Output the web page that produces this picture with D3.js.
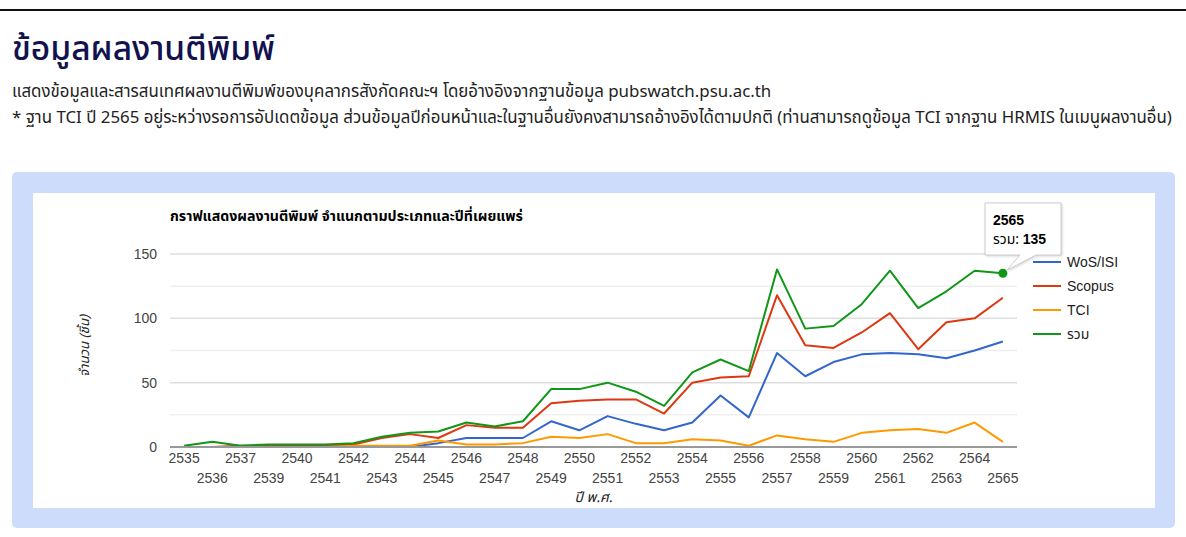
<!DOCTYPE html>
<html>
<head>
<meta charset="utf-8">
<script src="https://cdn.jsdelivr.net/npm/d3@7"></script>
<style>
  body { margin: 0; background: #fff; }
  svg { display: block; }
</style>
</head>
<body>
<div id="page"></div>
<script>
// Data: years (B.E.) and publication counts per database
const years = ['2535','2536','2537','2539','2540','2541','2542','2543','2544','2545',
  '2546','2547','2548','2549','2550','2551','2552','2553','2554','2555',
  '2556','2557','2558','2559','2560','2561','2562','2563','2564','2565'];
const wos    = [0,0,0,0,0,0,0,0,0,3, 7,7,7,20,13,24,18,13,19,40, 23,73,55,66,72,73,72,69,75,82];
const scopus = [0,0,1,1,1,1,2,7,10,7, 17,15,15,34,36,37,37,26,50,54, 55,118,79,77,89,104,76,97,100,116];
const tci    = [0,0,0,0,0,0,1,1,1,5, 2,2,3,8,7,10,3,3,6,5, 1,9,6,4,11,13,14,11,19,4];
const total  = [1,4,1,2,2,2,3,8,11,12, 19,16,20,45,45,50,43,32,58,68, 59,138,92,94,111,137,108,121,137,135];
const seriesNames = ['WoS/ISI','Scopus','TCI','รวม'];
const yTicks = [0,50,100,150];
const yMinor = [25,75,125];

const colors = ['#3366cc','#dc3912','#ff9900','#109618'];
const thai = '"Noto Sans Thai","Noto Sans","Open Sans",sans-serif';
const arial = '"Liberation Sans",Arial,sans-serif';

let W = 1186, H = 537;
let svg = d3.select('#page').append('svg')
  .attr('width', W).attr('height', H);

// fit a text element's font-size to a target width
function fit(sel, target) {
  let w = sel.node().getComputedTextLength();
  let fs = parseFloat(sel.attr('font-size'));
  if (w > 0) sel.attr('font-size', (fs * target / w).toFixed(2));
}

// top rule
svg.append('rect').attr('x',0).attr('y',9).attr('width',W).attr('height',2).attr('fill','#111');

// headings
let h1 = svg.append('text').attr('x',12).attr('y',60)
  .attr('font-family',thai).attr('font-size',30).attr('font-weight',500)
  .attr('fill','#12124f').text('ข้อมูลผลงานตีพิมพ์');
fit(h1, 263);

let s1 = svg.append('text').attr('x',12).attr('y',97)
  .attr('font-family',thai).attr('font-size',14).attr('fill','#222')
  .text('แสดงข้อมูลและสารสนเทศผลงานตีพิมพ์ของบุคลากรสังกัดคณะฯ โดยอ้างอิงจากฐานข้อมูล pubswatch.psu.ac.th');
fit(s1, 760);
let s2 = svg.append('text').attr('x',12).attr('y',123)
  .attr('font-family',thai).attr('font-size',14).attr('fill','#222')
  .text('* ฐาน TCI ปี 2565 อยู่ระหว่างรอการอัปเดตข้อมูล ส่วนข้อมูลปีก่อนหน้าและในฐานอื่นยังคงสามารถอ้างอิงได้ตามปกติ (ท่านสามารถดูข้อมูล TCI จากฐาน HRMIS ในเมนูผลงานอื่น)');
fit(s2, 1160);

// panel
svg.append('rect').attr('x',12).attr('y',172).attr('width',1163).attr('height',356)
  .attr('rx',5).attr('fill','#cddcfb');
svg.append('rect').attr('x',33).attr('y',193).attr('width',1122).attr('height',315)
  .attr('fill','#fff');

// plot area
let margin = {left: 170, right: 1017, top: 254, bottom: 447};
let x = d3.scalePoint().domain(years).range([margin.left, margin.right]).padding(0.5);
let y = d3.scaleLinear().domain([0,150]).range([margin.bottom, margin.top]);

let g = svg.append('g');

// gridlines
g.selectAll('.minor').data(yMinor).enter().append('line')
  .attr('x1',margin.left).attr('x2',margin.right)
  .attr('y1',d => y(d)).attr('y2',d => y(d))
  .attr('stroke','#efefef').attr('stroke-width',1.5);
g.selectAll('.major').data(yTicks.slice(1)).enter().append('line')
  .attr('x1',margin.left).attr('x2',margin.right)
  .attr('y1',d => y(d)).attr('y2',d => y(d))
  .attr('stroke','#dedede').attr('stroke-width',1.5);

// y tick labels
g.selectAll('.ylab').data(yTicks).enter().append('text')
  .attr('x', margin.left - 13).attr('y', d => y(d) + 5)
  .attr('text-anchor','end').attr('font-family',arial).attr('font-size',14)
  .attr('fill','#444').text(d => d);

// x tick labels, alternate rows
g.selectAll('.xlab').data(years).enter().append('text')
  .attr('x', d => x(d))
  .attr('y', (d,i) => i % 2 == 0 ? 463 : 483)
  .attr('text-anchor','middle').attr('font-family',arial).attr('font-size',14)
  .attr('fill','#444').text(d => d);

// lines
let allSeries = [wos, scopus, tci, total];
let line = d3.line().x((d,i) => x(years[i])).y(d => y(d));
allSeries.forEach(function(s, k) {
  g.append('path').datum(s)
    .attr('d', line)
    .attr('fill','none').attr('stroke',colors[k]).attr('stroke-width',2)
    .attr('stroke-linejoin','round');
});

// baseline
g.append('line').attr('x1',margin.left).attr('x2',margin.right)
  .attr('y1',y(0)).attr('y2',y(0)).attr('stroke','#999').attr('stroke-width',2);

// axis titles
let xt = svg.append('text').attr('x',(margin.left + margin.right)/2).attr('y',502)
  .attr('text-anchor','middle').attr('font-family',thai).attr('font-size',13)
  .attr('font-style','italic').attr('fill','#222').text('ปี พ.ศ.');
fit(xt, 38);
let yt = svg.append('text')
  .attr('transform','translate(89,' + 346 + ') rotate(-90)')
  .attr('text-anchor','middle').attr('font-family',thai).attr('font-size',13)
  .attr('font-style','italic').attr('fill','#222').text('จำนวน (ชิ้น)');
fit(yt, 62);

// chart title
let ct = svg.append('text').attr('x',170).attr('y',221)
  .attr('font-family',thai).attr('font-size',13).attr('font-weight','bold')
  .attr('fill','#000').text('กราฟแสดงผลงานตีพิมพ์ จำแนกตามประเภทและปีที่เผยแพร่');
fit(ct, 353);

// legend
let legend = svg.append('g');
seriesNames.forEach(function(name, k) {
  let ly = 262 + k * 24;
  legend.append('line').attr('x1',1033).attr('x2',1061).attr('y1',ly).attr('y2',ly)
    .attr('stroke',colors[k]).attr('stroke-width',2);
  legend.append('text').attr('x',1067).attr('y',ly + 5)
    .attr('font-family', k == 3 ? thai : arial).attr('font-size',14)
    .attr('fill','#222').text(name);
});

// tooltip on last total point
let last = years.length - 1;
let px = x(years[last]), py = y(total[last]);
svg.append('circle').attr('cx',px).attr('cy',py).attr('r',4.5).attr('fill',colors[3]);

let tip = svg.append('g');
tip.append('path')
  .attr('d', 'M985,203 H1061 V255 H1036 L' + (px + 4) + ',' + (py - 3) + ' L1020,255 H985 Z')
  .attr('fill','#fff').attr('stroke','#ccc').attr('stroke-width',1)
  .style('filter','drop-shadow(1px 1px 1px rgba(0,0,0,0.15))');
tip.append('text').attr('x',993).attr('y',225)
  .attr('font-family',arial).attr('font-size',14).attr('font-weight','bold')
  .attr('fill','#000').text(years[last]);
let t2 = tip.append('text').attr('x',993).attr('y',244)
  .attr('font-size',14).attr('fill','#000');
t2.append('tspan').attr('font-family',thai).text('รวม: ');
t2.append('tspan').attr('font-family',arial).attr('font-weight','bold').text(total[last]);
</script>
</body>
</html>
